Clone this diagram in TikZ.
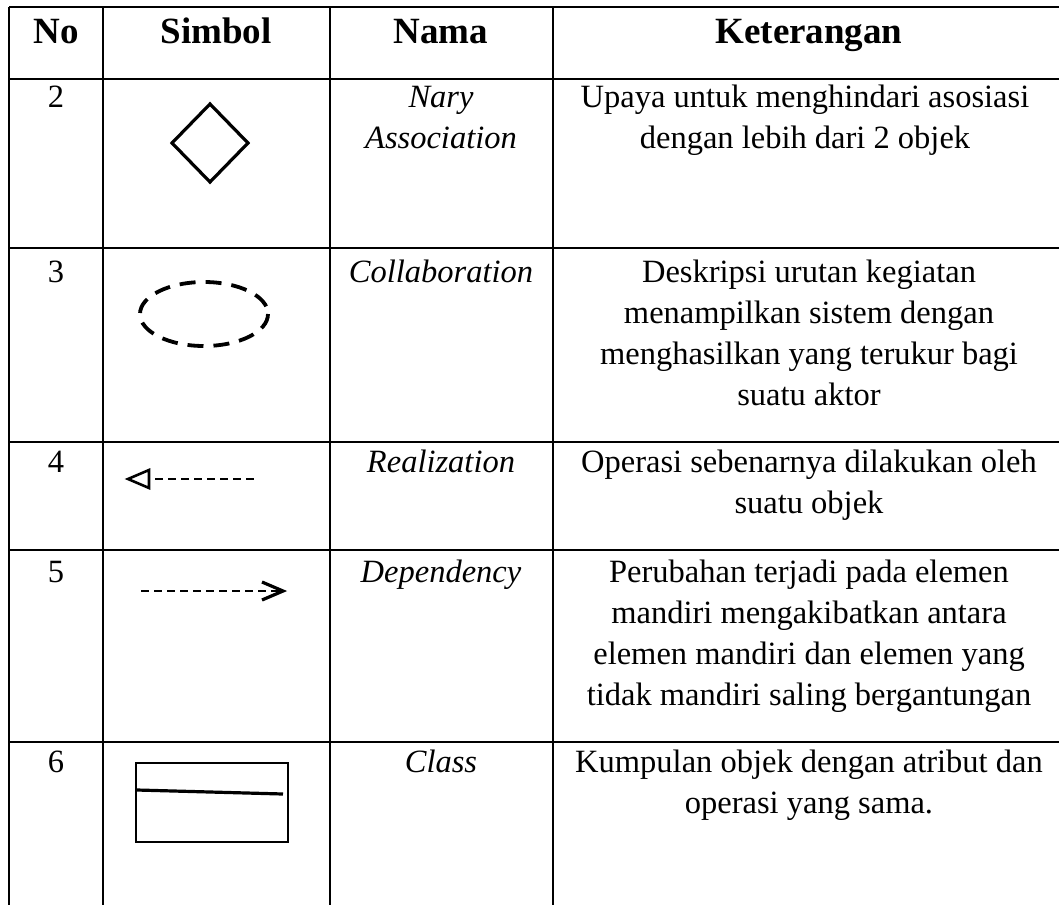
\documentclass[tikz,border=0pt]{standalone}
\usepackage{fontspec}
\setmainfont{Liberation Serif}
\begin{document}
\begin{tikzpicture}[x=1pt,y=-1pt,
  grid/.style={line width=2.8pt},
  hdr/.style={font=\fontsize{37}{44}\selectfont\bfseries, anchor=base, inner sep=0pt},
  cell/.style={font=\fontsize{32.5}{41}\selectfont, anchor=north, inner sep=0pt, align=center},
  nama/.style={cell, font=\fontsize{32.5}{41}\selectfont\itshape},
  sym/.style={line width=3.2pt, line join=miter},
  thindash/.style={line width=1.6pt, dash pattern=on 7.5pt off 5.5pt},
  ovaldash/.style={line width=3.8pt, dash pattern=on 16pt off 10pt}
]
\useasboundingbox (0,0) rectangle (1059,905);
% grid
\foreach \yy in {7,79,248,442,550,742}{\draw[grid] (9,\yy) -- (1059,\yy);}
\foreach \xx in {9,103,330,553}{\draw[grid] (\xx,7) -- (\xx,905);}
% header
\node[hdr] (h1) at (56,43) {No};
\node[hdr] (h2) at (216,43) {Simbol};
\node[hdr] (h3) at (441,43) {Nama};
\node[hdr] (h4) at (809,43) {Keterangan};
% numbers
\newcommand{\R}{\rule{0pt}{25pt}}
\node[cell] (n2) at (56,82) {\R 2};
\node[cell] (n3) at (56,257) {\R 3};
\node[cell] (n4) at (56,447) {\R 4};
\node[cell] (n5) at (56,557) {\R 5};
\node[cell] (n6) at (56,747) {\R 6};
% names
\node[nama] (m2) at (441,82) {\R Nary\\Association};
\node[nama] (m3) at (441,257) {\R Collaboration};
\node[nama] (m4) at (441,447) {\R Realization};
\node[nama] (m5) at (441,557) {\R Dependency};
\node[nama] (m6) at (441,747) {\R Class};
% descriptions
\node[cell] (k2) at (805,82) {\R Upaya untuk menghindari asosiasi\\dengan lebih dari 2 objek};
\node[cell] (k3) at (809,257) {\R Deskripsi urutan kegiatan\\menampilkan sistem dengan\\menghasilkan yang terukur bagi\\suatu aktor};
\node[cell] (k4) at (809,447) {\R Operasi sebenarnya dilakukan oleh\\suatu objek};
\node[cell] (k5) at (809,557) {\R Perubahan terjadi pada elemen\\mandiri mengakibatkan antara\\elemen mandiri dan elemen yang\\tidak mandiri saling bergantungan};
\node[cell] (k6) at (809,747) {\R Kumpulan objek dengan atribut dan\\operasi yang sama.};
% symbols
\draw[sym] (172,143) -- (210,104) -- (248,143) -- (210,182) -- cycle;
\draw[ovaldash] (204,314) ellipse [x radius=64, y radius=32];
\draw[thindash] (155,479) -- (259,479);
\draw[line width=2.6pt, line join=miter] (149,470) -- (128,479) -- (149,488) -- cycle;
\draw[thindash] (141,591) -- (280,591);
\draw[line width=3.2pt, line join=miter] (262,582) -- (283,591) -- (262,600);
\draw[line width=2.4pt] (136,763) rectangle (288,842);
\draw[line width=3.2pt] (137,790) -- (283,794);
\end{tikzpicture}
\end{document}
